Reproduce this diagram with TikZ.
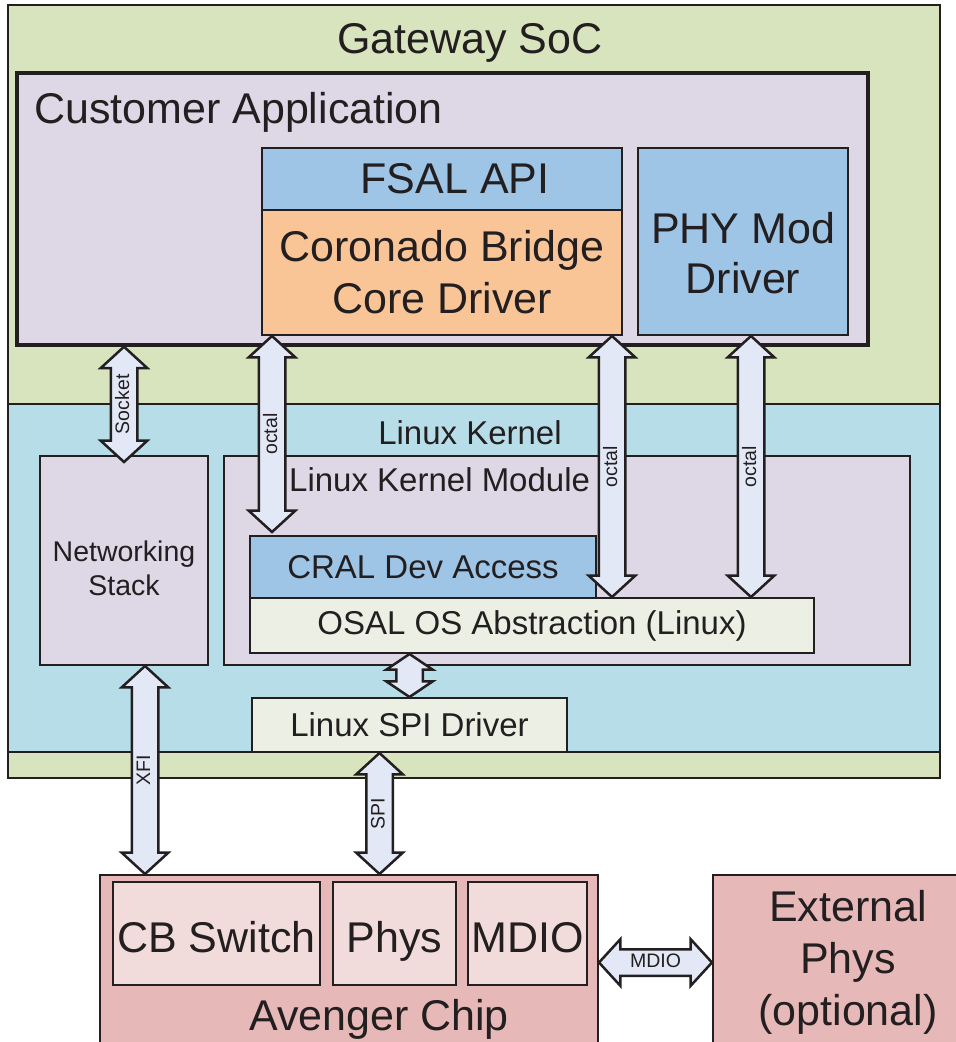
\documentclass[tikz,border=0pt]{standalone}
\usepackage{fontspec}
\setmainfont{Liberation Sans}
\usetikzlibrary{shapes.arrows, calc}

\newcommand{\fbig}{\fontsize{43}{52}\selectfont}
\newcommand{\fmid}{\fontsize{33}{40}\selectfont}
\newcommand{\fnet}{\fontsize{28.5}{34}\selectfont}
\newcommand{\fbus}{\fontsize{19.5}{23}\selectfont}

% block arrow: name, from, to, label
\newcommand{\busarrow}[5][]{%
  \path let \p1=(#3), \p2=(#4), \n1={veclen(\x2-\x1,\y2-\y1)}, \n2={atan2(\y2-\y1,\x2-\x1)}
    in node[bus, minimum height=\n1, rotate=\n2, #1] (#2) at ($(#3)!0.5!(#4)$) {#5};}

\begin{document}
\begin{tikzpicture}[x=1pt, y=-1pt,
  box/.style={rectangle, draw=ink, line width=2pt, inner sep=0pt, text=ink},
  lbl/.style={inner sep=0pt, text=ink},
  bus/.style={double arrow, draw=ink, fill=buscol, line width=2.5pt,
    double arrow head extend=10pt, double arrow tip angle=95,
    inner xsep=0pt, inner ysep=3pt, text height=14pt, text depth=4pt,
    text=ink, font=\fbus}]
  % Define colors
  \definecolor{ink}{RGB}{35,31,32}
  \definecolor{socgreen}{RGB}{215,228,189}
  \definecolor{lavender}{RGB}{222,215,230}
  \definecolor{kernblue}{RGB}{183,222,232}
  \definecolor{apiblue}{RGB}{158,196,230}
  \definecolor{coreorange}{RGB}{249,197,151}
  \definecolor{cream}{RGB}{236,240,228}
  \definecolor{buscol}{RGB}{226,232,245}
  \definecolor{chipred}{RGB}{230,185,184}
  \definecolor{chippink}{RGB}{242,220,219}

  \useasboundingbox (0,0) rectangle (956,1042);
  \clip (0,0) rectangle (956,1042);

  % Gateway SoC
  \node[box, fill=socgreen, minimum width=932pt, minimum height=773pt] (soc) at (474,391.5) {};
  \node[lbl, anchor=base, font=\fbig] (soclbl) at (470,53) {Gateway SoC};

  % Customer application
  \node[box, fill=lavender, line width=3.5pt, minimum width=851pt, minimum height=272pt] (cust) at (442.5,209) {};
  \node[lbl, anchor=base west, font=\fbig] (custlbl) at (34,123) {Customer Application};
  \node[box, fill=apiblue, font=\fbig, minimum width=360pt, minimum height=62pt] (fsal) at (442,179) {\hspace*{26pt}FSAL API};
  \node[box, fill=coreorange, font=\fbig, align=center, minimum width=360pt, minimum height=125pt] (core) at (442,272.5) {Coronado Bridge\\Core Driver};
  \node[box, fill=apiblue, minimum width=210pt, minimum height=187pt] (phy) at (743,241.5) {};
  \node[lbl, font=\fontsize{43}{50}\selectfont, align=center] (phylbl) at (743,253) {PHY Mod\\Driver};

  % Linux kernel
  \node[box, fill=kernblue, minimum width=932pt, minimum height=348pt] (kernel) at (474,578) {};
  \node[lbl, anchor=base, font=\fmid] (kernlbl) at (470,444) {Linux Kernel};
  \node[box, fill=lavender, minimum width=168pt, minimum height=209pt] (net) at (124,560.5) {};
  \node[lbl, font=\fnet, align=center] (netlbl) at (124,568) {Networking\\Stack};
  \node[box, fill=lavender, minimum width=686pt, minimum height=209pt] (lkm) at (567,560.5) {};
  \node[lbl, anchor=base west, font=\fmid] (lkmlbl) at (289,491) {Linux Kernel Module};
  \node[box, fill=apiblue, font=\fmid, minimum width=346pt, minimum height=62pt] (cral) at (423,567) {CRAL Dev Access};
  \node[box, fill=cream, font=\fmid, minimum width=564pt, minimum height=55pt] (osal) at (532,625.5) {OSAL OS Abstraction (Linux)};
  \node[box, fill=cream, font=\fmid, minimum width=315pt, minimum height=54pt] (spidrv) at (409.5,725) {Linux SPI Driver};

  % Avenger chip
  \node[box, fill=chipred, minimum width=498pt, minimum height=175pt] (avenger) at (349,962.5) {};
  \node[lbl, anchor=base, font=\fbig] (avlbl) at (379,1030) {Avenger Chip};
  \foreach \name/\txt/\xpos/\boxw in {cbsw/CB Switch/216.5/207, phys/Phys/394.5/123, mdio/MDIO/527.5/119} {
    \node[box, fill=chippink, font=\fbig, text height=47pt, text depth=9pt, minimum width=\boxw pt, minimum height=103pt] (\name) at (\xpos,933.5) {\txt};
  }
  \node[box, fill=chipred, font=\fontsize{43}{52}\selectfont, align=center, minimum width=270pt, minimum height=175pt] (ext) at (848,962.5) {External\\Phys\\(optional)};

  % Arrow end points
  \coordinate (sockA) at ($(net.north)+(0,7)$);
  \coordinate (sockB) at (sockA |- cust.south);
  \coordinate (oct1A) at ($(cral.north west)+(23,-3)$);
  \coordinate (oct1B) at (oct1A |- core.south);
  \coordinate (oct2A) at ($(osal.north west)+(363,0)$);
  \coordinate (oct2B) at (oct2A |- core.south);
  \coordinate (oct3A) at ($(osal.north west)+(502,0)$);
  \coordinate (oct3B) at (oct3A |- phy.south);
  \coordinate (osalB) at (spidrv.north |- osal.south);
  \coordinate (xfiA) at ($(net.south)+(21,0)$);
  \coordinate (xfiB) at (xfiA |- avenger.north);
  \coordinate (spiA) at ($(spidrv.south)+(-30,0)$);
  \coordinate (spiB) at (spiA |- avenger.north);

  % Arrows
  \busarrow{sock}{sockA}{sockB}{Socket}
  \busarrow{oct1}{oct1A}{oct1B}{octal}
  \busarrow{oct2}{oct2A}{oct2B}{octal}
  \busarrow{oct3}{oct3A}{oct3B}{octal}
  \busarrow[double arrow tip angle=112]{osalspi}{spidrv.north}{osalB}{}
  \busarrow{xfi}{xfiB}{xfiA}{XFI}
  \busarrow{spi}{spiB}{spiA}{SPI}
  \busarrow{mdiobus}{avenger.east}{ext.west}{MDIO}
\end{tikzpicture}
\end{document}
